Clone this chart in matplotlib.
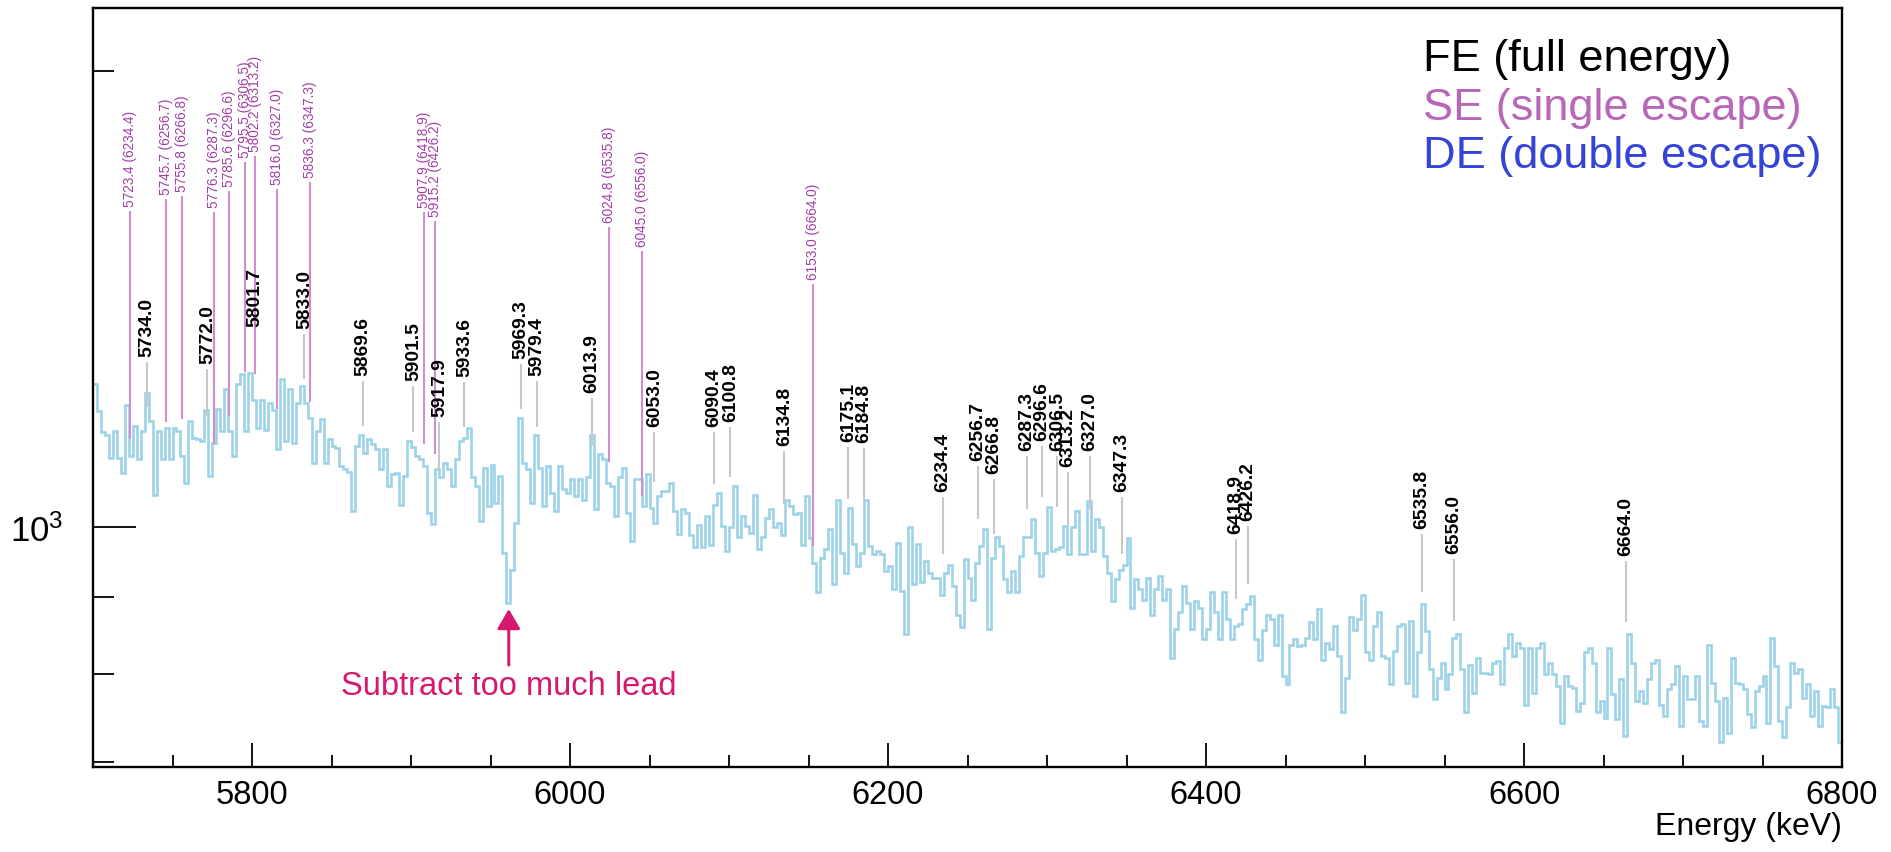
import numpy as np
import matplotlib
matplotlib.use("Agg")
import matplotlib.pyplot as plt
from matplotlib.transforms import blended_transform_factory
from matplotlib.ticker import FixedLocator, FixedFormatter, NullFormatter

# ---------------- data ----------------
e_min = 5700.0
e_max = 6800.0
bin_width = 2.5

counts = [
    1243, 1193, 1155, 1150, 1111, 1157, 1111, 1086, 1205, 1114,
    1166, 1109, 1157, 1227, 1175, 1051, 1157, 1109, 1163, 1109,
    1163, 1157, 1114, 1070, 1175, 1146, 1143, 1140, 1195, 1081,
    1137, 1196, 1157, 1233, 1157, 1114, 1243, 1262, 1157, 1265,
    1214, 1163, 1214, 1160, 1208, 1195, 1126, 1252, 1140, 1233,
    1137, 1208, 1240, 1208, 1181, 1103, 1157, 1178, 1103, 1143,
    1131, 1128, 1097, 1092, 1088, 1025, 1131, 1151, 1120, 1143,
    1135, 1126, 1092, 1126, 1065, 1084, 1086, 1035, 1081, 1140,
    1130, 1114, 1109, 1097, 1022, 1005, 1092, 1079, 1103, 1092,
    1065, 1109, 1140, 1146, 1163, 1079, 1065, 1010, 1095, 1033,
    1100, 1038, 1081, 962, 891, 938, 1007, 1181, 1103, 1092,
    1038, 1151, 1095, 1033, 1097, 1054, 1025, 1097, 1060, 1054,
    1076, 1048, 1076, 1043, 1079, 1150, 1028, 1117, 1109, 1070,
    1065, 1017, 1079, 1095, 1022, 979, 1076, 1076, 1033, 1084,
    1030, 1007, 1048, 1056, 1056, 1070, 1025, 990, 1028, 1022,
    988, 970, 1003, 970, 1017, 973, 1034, 1054, 1002, 965,
    1000, 1065, 986, 1017, 1002, 991, 1051, 967, 986, 1015,
    1028, 1000, 1006, 988, 1043, 1033, 1020, 1022, 974, 1049,
    984, 948, 906, 955, 967, 997, 917, 1043, 962, 933,
    1030, 975, 943, 962, 1043, 972, 960, 965, 960, 936,
    943, 910, 977, 908, 850, 1000, 917, 975, 921, 950,
    933, 926, 926, 903, 933, 945, 915, 876, 859, 953,
    926, 896, 948, 972, 997, 857, 955, 986, 972, 924,
    906, 936, 906, 957, 986, 986, 1012, 962, 929, 962,
    1032, 965, 967, 970, 1002, 960, 1000, 1025, 960, 960,
    1041, 965, 1012, 1000, 957, 933, 894, 924, 938, 945,
    984, 885, 924, 910, 896, 926, 876, 910, 929, 896,
    910, 820, 857, 879, 915, 892, 857, 894, 885, 844,
    857, 906, 879, 844, 906, 870, 844, 861, 863, 883,
    890, 901, 844, 818, 856, 876, 870, 836, 876, 798,
    788, 836, 844, 835, 836, 845, 866, 844, 884, 818,
    839, 831, 861, 822, 755, 796, 873, 856, 870, 902,
    827, 818, 861, 879, 822, 820, 788, 829, 861, 863,
    790, 868, 774, 827, 890, 854, 806, 770, 796, 814,
    782, 800, 845, 850, 806, 755, 812, 778, 820, 802,
    802, 800, 814, 816, 788, 833, 850, 822, 839, 833,
    764, 833, 778, 833, 839, 800, 814, 800, 786, 743,
    798, 786, 784, 757, 766, 827, 833, 814, 755, 768,
    749, 833, 776, 747, 794, 729, 850, 814, 768, 780,
    766, 794, 814, 818, 764, 751, 782, 788, 810, 740,
    798, 770, 770, 798, 745, 740, 836, 790, 768, 722,
    772, 732, 820, 790, 788, 782, 753, 738, 780, 786,
    798, 743, 845, 810, 745, 727, 761, 814, 802, 806,
    772, 788, 751, 780, 740, 762, 761, 782, 761, 722,
]

# full-energy peaks (keV)
fe_energy = [5734.0, 5772.0, 5801.7, 5833.0, 5869.6, 5901.5, 5917.9, 5933.6,
             5969.3, 5979.4, 6013.9, 6053.0, 6090.4, 6100.8, 6134.8, 6175.1,
             6184.8, 6234.4, 6256.7, 6266.8, 6287.3, 6296.6, 6306.5, 6313.2,
             6327.0, 6347.3, 6418.9, 6426.2, 6535.8, 6556.0, 6664.0]
# single-escape peaks (keV) and their parent full-energy lines
se_energy = [5723.4, 5745.7, 5755.8, 5776.3, 5785.6, 5795.5, 5802.2, 5816.0,
             5836.3, 5907.9, 5915.2, 6024.8, 6045.0, 6153.0]
se_parent = [6234.4, 6256.7, 6266.8, 6287.3, 6296.6, 6306.5, 6313.2, 6327.0,
             6347.3, 6418.9, 6426.2, 6535.8, 6556.0, 6664.0]

x_major = [5800, 6000, 6200, 6400, 6600, 6800]
x_minor = [5750, 5850, 5900, 5950, 6050, 6100, 6150, 6250, 6300, 6350,
           6450, 6500, 6550, 6650, 6700, 6750]
y_major = [1000]
y_major_labels = [r'$10^{3}$']
y_minor = [700, 800, 900, 2000]

legend_lines = ['FE (full energy)', 'SE (single escape)', 'DE (double escape)']
lead_energy = 5961.5
lead_text = 'Subtract too much lead'

# ---------------- layout (image pixels) ----------------
W, H = 1891, 853
AX_L, AX_R, AX_T, AX_B = 93, 1842, 9, 768
fe_line_px = [(408, 363), (417, 370), (363, 333), (380, 335), (427, 382), (433, 387),
              (473, 423), (428, 383), (410, 365), (428, 382), (447, 399), (483, 433),
              (485, 433), (478, 428), (505, 452), (500, 448), (501, 449), (555, 498),
              (520, 467), (535, 480), (510, 457), (498, 447), (508, 457), (527, 473),
              (510, 457), (555, 498), (600, 540), (585, 527), (593, 535), (622, 560),
              (623, 562)]
se_line_px = [(440, 212), (423, 200), (420, 197), (445, 213), (417, 192), (373, 163),
              (375, 157), (410, 190), (403, 183), (445, 213), (455, 222), (463, 228),
              (497, 252), (547, 285)]

HIST_COLOR = '#9dd3e7'
FE_LINE = '#c8c8c8'
SE_LINE = '#d08ed0'
SE_TEXT = '#a23ea6'
LEG_SE = '#b867b8'
LEG_DE = '#3543d8'
LEAD = '#d6196f'

plt.rcParams['font.family'] = ['Liberation Sans', 'DejaVu Sans']
plt.rcParams['mathtext.fontset'] = 'custom'
plt.rcParams['mathtext.rm'] = 'Liberation Sans'
plt.rcParams['mathtext.it'] = 'Liberation Sans:italic'
plt.rcParams['mathtext.bf'] = 'Liberation Sans:bold'

fig = plt.figure(figsize=(W / 100, H / 100), dpi=100)
ax = fig.add_axes([AX_L / W, 1 - AX_B / H, (AX_R - AX_L) / W, (AX_B - AX_T) / H])


def fy(py):
    return (AX_B - py) / (AX_B - AX_T)


edges = np.arange(e_min, e_max + bin_width / 2, bin_width)
ax.stairs(counts, edges, baseline=None, color=HIST_COLOR, lw=1.9, zorder=2)

ax.set_yscale('log')
ax.set_xlim(e_min, e_max)
ax.set_ylim(695, 2200)

ax.xaxis.set_major_locator(FixedLocator(x_major))
ax.xaxis.set_minor_locator(FixedLocator(x_minor))
ax.xaxis.set_minor_formatter(NullFormatter())
ax.yaxis.set_major_locator(FixedLocator(y_major))
ax.yaxis.set_major_formatter(FixedFormatter(y_major_labels))
ax.yaxis.set_minor_locator(FixedLocator(y_minor))
ax.yaxis.set_minor_formatter(NullFormatter())

ax.tick_params(axis='x', which='major', direction='in', length=17, width=1.3,
               labelsize=23.5, pad=8.5, top=False)
ax.tick_params(axis='x', which='minor', direction='in', length=8.5, width=1.3, top=False)
ax.tick_params(axis='y', which='major', direction='in', length=31, width=1.3,
               labelsize=25, pad=21, right=False)
ax.tick_params(axis='y', which='minor', direction='in', length=15, width=1.3, right=False)
for s in ax.spines.values():
    s.set_linewidth(1.7)

trans = blended_transform_factory(ax.transData, ax.transAxes)

for e, (lo, hi) in zip(fe_energy, fe_line_px):
    ax.plot([e, e], [fy(lo), fy(hi)], transform=trans, color=FE_LINE, lw=1.5,
            solid_capstyle='butt', zorder=3)
    ax.text(e, fy(hi - 6), f'{e:.1f}', rotation=90, ha='center', va='bottom',
            transform=trans, fontsize=13.9, fontweight='bold', color='black', zorder=4)

for e, p, (lo, hi) in zip(se_energy, se_parent, se_line_px):
    ax.plot([e, e], [fy(lo), fy(hi)], transform=trans, color=SE_LINE, lw=1.5,
            solid_capstyle='butt', zorder=3)
    ax.text(e, fy(hi - 5), f'{e:.1f} ({p:.1f})', rotation=90, ha='center', va='bottom',
            transform=trans, fontsize=9.8, color=SE_TEXT, zorder=4)

# lead annotation
ax.annotate('', xy=(lead_energy, fy(610)), xytext=(lead_energy, fy(666)),
            xycoords=trans, textcoords=trans,
            arrowprops=dict(arrowstyle='-|>,head_length=0.6,head_width=0.35',
                            color=LEAD, lw=2.2, mutation_scale=20, shrinkA=0, shrinkB=0))
ax.text(lead_energy, fy(695), lead_text, ha='center', va='baseline', transform=trans,
        fontsize=23.5, color=LEAD)

# legend text block
for txt, col, base in zip(legend_lines, ['black', LEG_SE, LEG_DE], [71, 120, 168]):
    fig.text(1423 / W, 1 - base / H, txt, ha='left', va='baseline', fontsize=32.5, color=col)

fig.text(AX_R / W, 1 - 835 / H, 'Energy (keV)', ha='right', va='baseline', fontsize=23)

fig.savefig('out.png', dpi=100)
